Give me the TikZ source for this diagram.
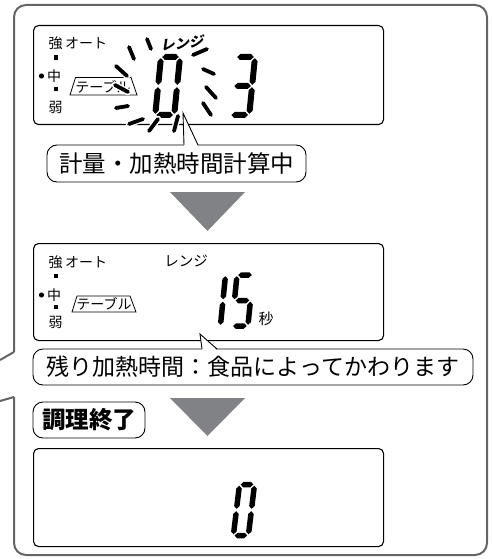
\documentclass[tikz,border=0pt]{standalone}
\usepackage{fontspec}
\setmainfont{Noto Sans CJK JP}
\definecolor{framegray}{RGB}{100,100,100}
\definecolor{trigray}{RGB}{128,130,133}
\newcommand\dhseg[3]{\fill ({#1},{#3}) -- ({#1+\segt/2},{#3-\segt/2}) -- ({#2-\segt/2},{#3-\segt/2}) -- ({#2},{#3}) -- ({#2-\segt/2},{#3+\segt/2}) -- ({#1+\segt/2},{#3+\segt/2}) -- cycle;}
\newcommand\dvseg[3]{\fill ({#1},{#2}) -- ({#1+\segt/2},{#2+\segt/2}) -- ({#1+\segt/2},{#3-\segt/2}) -- ({#1},{#3}) -- ({#1-\segt/2},{#3-\segt/2}) -- ({#1-\segt/2},{#2+\segt/2}) -- cycle;}
\newcommand\segA{\dhseg{\dg}{\dW-\dg}{0}}
\newcommand\segB{\dvseg{\dW}{\dg}{\dH/2-\dg}}
\newcommand\segC{\dvseg{\dW}{\dH/2+\dg}{\dH-\dg}}
\newcommand\segD{\dhseg{\dg}{\dW-\dg}{\dH}}
\newcommand\segE{\dvseg{0}{\dH/2+\dg}{\dH-\dg}}
\newcommand\segF{\dvseg{0}{\dg}{\dH/2-\dg}}
\newcommand\segG{\dhseg{\dg}{\dW-\dg}{\dH/2}}
\begin{document}
\begin{tikzpicture}[x=1pt,y=-1pt,
  frame/.style={draw=framegray, line width=2},
  lcd/.style={draw=black, line width=1.1, rounded corners=5, anchor=north west, inner sep=0},
  callout/.style={draw=black, line width=0.9, rounded corners=10, fill=white, inner sep=0},
  tagbox/.style={draw=black, line width=0.8},
  flash/.style={draw=white, line width=1.4, double=black, double distance=3.8, line cap=round},
  lbl/.style={inner sep=0, font=\fontsize{14}{14}\selectfont},
  big/.style={font=\fontsize{23.5}{23.5}\selectfont},
  ptr/.style={draw=black, line width=0.9}]
\useasboundingbox (0,0) rectangle (491,559);

% outer frame
\draw[frame, rounded corners=12] (14,397) -- (14,555) -- (487,555) -- (487,5) -- (14,5) -- (14,352);
\draw[frame] (14,352) -- (0,360);
\draw[frame] (14,397) -- (0,401);

% ---------- display 1 ----------
\node[lcd, minimum width=350, minimum height=99] (d1) at (33,25) {};
\node[lbl] (d1s) at (55.5,43.5) {強};
\node[lbl] (d1a) at (86,43.5) {オート};
\fill (53.8,55.3) rectangle (58.2,59.7);
\node[lbl] (d1m) at (54,76) {中};
\fill (41.5,76) circle (2.6);
\fill (53.8,86.8) rectangle (58.2,91.2);
\node[lbl] (d1w) at (55.5,107) {弱};
\draw[tagbox] (70,95) -- (75.5,77.5) -- (131,77.5) -- (137,95) -- cycle;
\node[lbl, font=\fontsize{14}{14}\selectfont] (d1t) at (103,86.5) {テーブル};
\node[lbl, font=\bfseries\fontsize{14}{14}\selectfont, xslant=0.25, rotate=6, transform shape] (d1r) at (183,43) {レンジ};
% digit 0
\begin{scope}[shift={(161,57)}, xslant=0.1]
\def\dW{19}\def\dH{58}\def\dg{1.2}\def\segt{6}
\segA\segB\segC\segD\segE\segF
\end{scope}
% digit 3
\begin{scope}[shift={(236,57)}, xslant=0.1]
\def\dW{19}\def\dH{58}\def\dg{1.2}\def\segt{6}
\segA\segB\segC\segD\segG
\end{scope}
% flashing marks
\draw[flash] (129,47) -- (134,59);
\draw[flash] (147,39) -- (151,49);
\draw[flash] (116,66) -- (127,76);
\draw[flash] (115,85) -- (128,92);
\draw[flash] (116,108) -- (128,106);
\draw[flash] (129,124) -- (143,119);
\draw[flash] (149,131) -- (158,119);
\draw[flash] (174,131) -- (178,116);
\draw[flash] (193,55) -- (207,49);
\draw[flash] (203,69) -- (214,74);
\draw[flash] (206,87) -- (216,98);
\draw[flash] (203,103) -- (211,115);

% callout 1
\node[callout, big, minimum width=259, minimum height=37] (c1) at (176.5,163.5) {計量・加熱時間計算中};
\coordinate (p1) at (183,113);
\fill[white] (184,146.5) -- (p1) -- (198,146.5) -- cycle;
\draw[ptr] (184,145) -- (p1) -- (198,145);

% arrow 1
\fill[trigray] (170,192) -- (245,192) -- (207.5,231) -- cycle;

% ---------- display 2 ----------
\node[lcd, minimum width=350, minimum height=97] (d2) at (33,243) {};
\node[lbl] (d2s) at (55.5,262) {強};
\node[lbl] (d2a) at (86,262) {オート};
\fill (53.8,273.8) rectangle (58.2,278.2);
\node[lbl] (d2m) at (54,295) {中};
\fill (41.5,295) circle (2.6);
\fill (53.8,304.8) rectangle (58.2,309.2);
\node[lbl] (d2w) at (55.5,322) {弱};
\draw[tagbox] (72,312) -- (77,296) -- (130,296) -- (136,312) -- cycle;
\node[lbl, font=\fontsize{14}{14}\selectfont] (d2t) at (104,304) {テーブル};
\node[lbl, font=\fontsize{14.5}{14.5}\selectfont] (d2r) at (186,261) {レンジ};
% digit 1
\begin{scope}[shift={(209,275)}, xslant=0.1]
\def\dW{16.5}\def\dH{51}\def\dg{1.2}\def\segt{5.5}
\segB\segC
\end{scope}
% digit 5
\begin{scope}[shift={(237,275)}, xslant=0.1]
\def\dW{16}\def\dH{51}\def\dg{1.2}\def\segt{5.5}
\segA\segC\segD\segF\segG
\end{scope}
\node[lbl, font=\fontsize{15}{15}\selectfont] (d2u) at (266,319) {秒};

% callout 2
\node[callout, big, font=\fontsize{23}{23}\selectfont, minimum width=440, minimum height=36] (c2) at (253,367) {残り加熱時間：食品によってかわります};
\coordinate (p2) at (200,334);
\fill[white] (202,350.5) -- (p2) -- (217,350.5) -- cycle;
\draw[ptr] (202,349) -- (p2) -- (217,349);

% callout 3
\node[callout, big, font=\bfseries\fontsize{23.5}{23.5}\selectfont, minimum width=112, minimum height=36] (c3) at (89,420) {調理終了};

% arrow 2
\fill[trigray] (170,398) -- (245,398) -- (207.5,436) -- cycle;

% ---------- display 3 ----------
\node[lcd, minimum width=350, minimum height=98] (d3) at (33,448) {};
\begin{scope}[shift={(239.5,484.5)}, xslant=0.12]
\def\dW{15}\def\dH{51}\def\dg{1.2}\def\segt{5.5}
\segA\segB\segC\segD\segE\segF
\end{scope}
\end{tikzpicture}
\end{document}
